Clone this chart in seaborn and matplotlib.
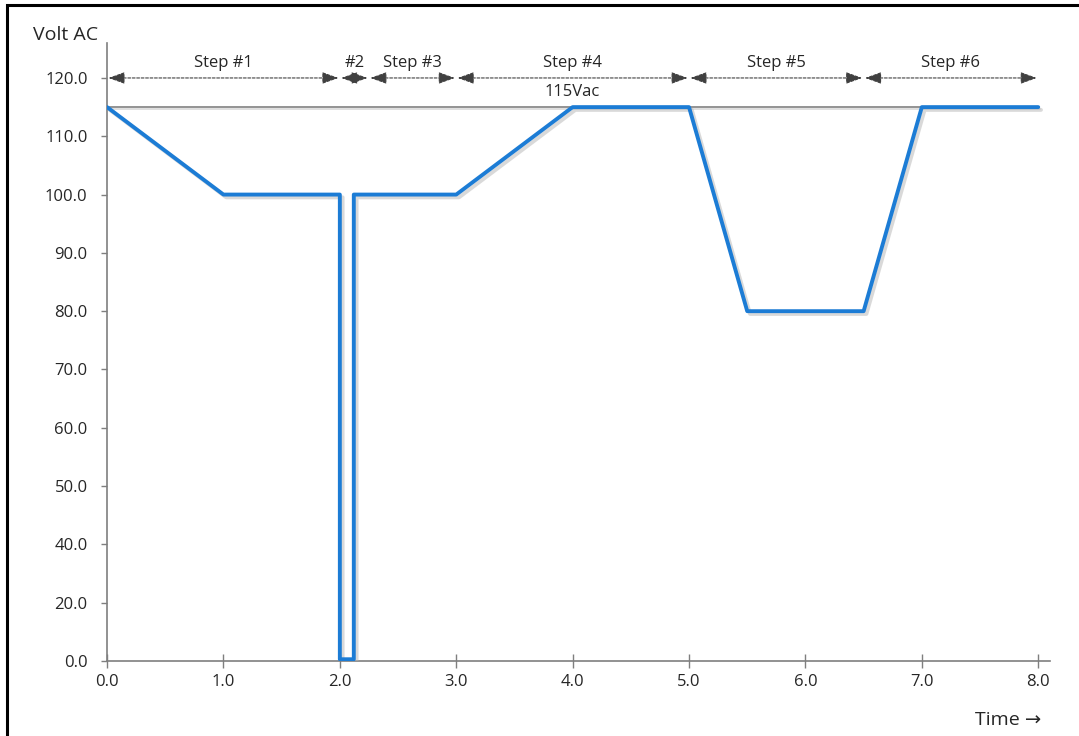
import numpy as np
import matplotlib
matplotlib.use("Agg")
import matplotlib.pyplot as plt
import matplotlib.patheffects as pe
from matplotlib.patches import Rectangle
import seaborn as sns

# Voltage profile (time, volts)
time_pts = [0.0, 1.0, 2.0, 2.0, 2.12, 2.12, 3.0, 4.0, 5.0, 5.5, 6.5, 7.0, 8.0]
volt_pts = [115, 100, 100, 0.6, 0.6, 100, 100, 115, 115, 80, 80, 115, 115]

# Step annotations
step_bounds = [0.0, 2.0, 2.25, 3.0, 5.0, 6.5, 8.0]
step_labels = ["Step #1", "#2", "Step #3", "Step #4", "Step #5", "Step #6"]

nominal_v = 115
y_ticks = [0, 20, 40, 50, 60, 70, 80, 90, 100, 110, 120]
x_ticks = [0, 1, 2, 3, 4, 5, 6, 7, 8]

sns.set_style("white")
plt.rcParams['font.family'] = ['Open Sans', 'DejaVu Sans']

fig = plt.figure(figsize=(10.79, 7.36), dpi=100)
ax = fig.add_axes([0.0992, 0.1019, 0.8738, 0.8397])


# y axis is not linear: 0-40 squeezed (20 per grid step), then 10 per step
def fwd(y):
    y = np.asarray(y, dtype=float)
    return np.where(y < 40, y / 2.0, y - 20.0)


def inv(v):
    v = np.asarray(v, dtype=float)
    return np.where(v < 20, v * 2.0, v + 20.0)


ax.set_yscale('function', functions=(fwd, inv))

# nominal 115 V reference line
ax.plot([0, 8], [nominal_v, nominal_v], color='#808080', lw=1.2, zorder=2,
        path_effects=[pe.SimpleLineShadow(offset=(1.5, -1.5), shadow_color='#c0c0c0', alpha=0.6), pe.Normal()])
ax.text(4.0, 116.9, "115Vac", ha='center', va='baseline', fontsize=12)

sns.lineplot(x=np.array(time_pts), y=np.array(volt_pts), sort=False, estimator=None,
             color='#1c7cd5', lw=2.8, ax=ax, zorder=3,
             path_effects=[pe.SimpleLineShadow(offset=(2, -2), shadow_color='#b5b5b5', alpha=0.5), pe.Normal()])

# step arrows
for i, lab in enumerate(step_labels):
    x0, x1 = step_bounds[i], step_bounds[i + 1]
    ax.annotate('', xy=(x1, 120), xytext=(x0, 120),
                arrowprops=dict(arrowstyle='<|-|>,head_length=1.0,head_width=0.36', ls=(0, (2.5, 1.5)),
                                color='#404040', lw=0.8, shrinkA=1, shrinkB=1),
                annotation_clip=False)
    ax.text((x0 + x1) / 2, 121.9, lab, ha='center', va='baseline', fontsize=12)

ax.set_xlim(0, 8.1)
ax.set_ylim(0, 126)
ax.set_xticks(x_ticks)
ax.set_xticklabels([f"{v:.1f}" for v in x_ticks])
ax.set_yticks(y_ticks)
ax.set_yticklabels([f"{v:.1f}" for v in y_ticks])
ax.tick_params(axis='x', direction='inout', length=9.4, width=1, color='#7f7f7f',
               labelsize=12, pad=5, bottom=True)
ax.tick_params(axis='y', direction='out', length=4, width=1, color='#7f7f7f',
               labelsize=12, pad=10, left=True)

for s in ['top', 'right']:
    ax.spines[s].set_visible(False)
for s in ['left', 'bottom']:
    ax.spines[s].set_color('#7f7f7f')
    ax.spines[s].set_linewidth(1.2)

fig.text(66 / 1079, 1 - 35 / 736, "Volt AC", ha='center', va='center', fontsize=14)
fig.text(1008 / 1079, 1 - 720 / 736, "Time \u2192", ha='center', va='center', fontsize=14)

# frame around the figure (left and top edges visible)
fig.patches.append(Rectangle((7 / 1079, -0.1), 1.2, 1.1 - 5 / 736, transform=fig.transFigure,
                             fill=False, ec='black', lw=2.2, zorder=10))

fig.savefig("out.png", dpi=100)
